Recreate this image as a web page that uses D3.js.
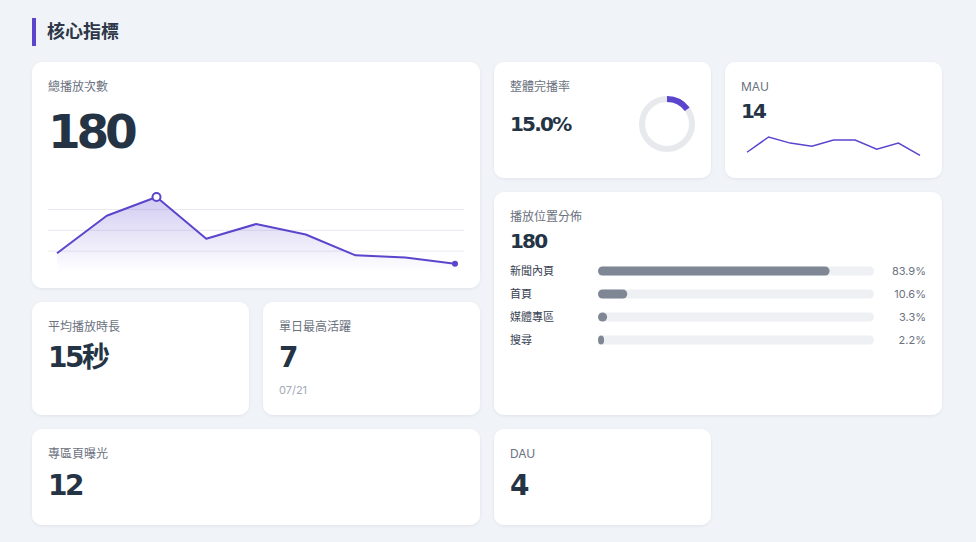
<!DOCTYPE html>
<html>
<head>
<meta charset="utf-8">
<title>核心指標</title>
<script src="https://cdn.jsdelivr.net/npm/d3@7"></script>
<style>
  html, body { margin: 0; padding: 0; background: #f0f4f8; }
  body { width: 976px; height: 542px; overflow: hidden; font-family: Inter, "Noto Sans CJK TC", sans-serif; }
  .lbl { font-size: 12px; fill: #6b7280; }
  .num { font-family: "DejaVu Sans", "Noto Sans CJK TC", sans-serif;
         font-weight: bold; fill: #253445; letter-spacing: -0.09em; }
</style>
</head>
<body>
<div id="container"></div>
<script>
// ---- data
var playCounts = [9, 27, 36, 16, 23, 18, 8, 7, 4];
var playGrid = [10, 20, 30];
var mauDaily = [2, 7, 5, 4, 6, 6, 3, 5, 1];
var completionRate = 0.15;
var placeNames = ["新聞內頁", "首頁", "媒體專區", "搜尋"];
var placeShares = [83.9, 10.6, 3.3, 2.2];

var cardNames = ["總播放次數", "整體完播率", "MAU", "播放位置分佈", "平均播放時長", "單日最高活躍", "專區頁曝光", "DAU"];
var cardValues = ["180", "15.0%", "14", "180", "15秒", "7", "12", "4"];
var peakDay = "07/21";

// ---- layout
var W = 976, H = 542;
var cards = [
  {x: 32, y: 62, w: 448, h: 226, size: 47, base: 148},
  {x: 494, y: 62, w: 217, h: 116, size: 20, base: 131},
  {x: 725, y: 62, w: 217, h: 116, size: 20, base: 118},
  {x: 494, y: 192, w: 448, h: 223, size: 20, base: 248},
  {x: 32, y: 302, w: 217, h: 113, size: 28, base: 367},
  {x: 263, y: 302, w: 217, h: 113, size: 28, base: 367},
  {x: 32, y: 429, w: 448, h: 96, size: 28, base: 495},
  {x: 494, y: 429, w: 217, h: 96, size: 28, base: 495}
];
var purple = "#5a45cc";

var svg = d3.select("#container").append("svg")
  .attr("width", W).attr("height", H);

var defs = svg.append("defs");
var sh = defs.append("filter").attr("id", "shadow")
  .attr("x", "-10%").attr("y", "-10%").attr("width", "120%").attr("height", "130%");
sh.append("feDropShadow").attr("dx", 0).attr("dy", 1).attr("stdDeviation", 1.5)
  .attr("flood-color", "#1a2a40").attr("flood-opacity", 0.07);

var grad = defs.append("linearGradient").attr("id", "areaGrad")
  .attr("x1", 0).attr("y1", 0).attr("x2", 0).attr("y2", 1);
grad.append("stop").attr("offset", "0%").attr("stop-color", purple).attr("stop-opacity", 0.28);
grad.append("stop").attr("offset", "100%").attr("stop-color", purple).attr("stop-opacity", 0);

// title
svg.append("rect").attr("x", 32).attr("y", 18).attr("width", 4).attr("height", 28).attr("fill", purple);
svg.append("text").attr("x", 47).attr("y", 38)
  .style("font-size", "18px").style("font-weight", "bold").attr("fill", "#2d3748")
  .text("核心指標");

// cards
var g = svg.selectAll("g.card").data(cards).enter().append("g").attr("class", "card");
g.append("rect")
  .attr("x", d => d.x).attr("y", d => d.y).attr("width", d => d.w).attr("height", d => d.h)
  .attr("rx", 10).attr("fill", "#fff").attr("filter", "url(#shadow)");
g.append("text").attr("class", "lbl")
  .attr("x", d => d.x + 16).attr("y", d => d.y + 29)
  .text((d, i) => cardNames[i]);
g.append("text").attr("class", "num")
  .attr("x", d => d.x + 16).attr("y", d => d.base)
  .style("font-size", d => d.size + "px")
  .text((d, i) => cardValues[i]);

// peak day note
svg.append("text").attr("x", 279).attr("y", 394)
  .style("font-size", "11px").attr("fill", "#a0aab8").text(peakDay);

// ---- play trend (card 0)
var x = d3.scaleLinear().domain([0, playCounts.length - 1]).range([57, 455]);
var y = d3.scaleLinear().domain([0, d3.max(playCounts)]).range([272, 197]);

svg.append("g").selectAll("line").data(playGrid).enter().append("line")
  .attr("x1", 48).attr("x2", 464)
  .attr("y1", d => y(d)).attr("y2", d => y(d))
  .attr("stroke", "#e9eaf0").attr("stroke-width", 1);

var area = d3.area().x((d, i) => x(i)).y0(y(0)).y1(d => y(d));
var line = d3.line().x((d, i) => x(i)).y(d => y(d));

svg.append("path").datum(playCounts).attr("d", area).attr("fill", "url(#areaGrad)");
svg.append("path").datum(playCounts).attr("d", line)
  .attr("fill", "none").attr("stroke", purple).attr("stroke-width", 2).attr("stroke-linejoin", "round");

var peak = d3.maxIndex(playCounts);
svg.append("circle").attr("cx", x(peak)).attr("cy", y(playCounts[peak])).attr("r", 4)
  .attr("fill", "#fff").attr("stroke", purple).attr("stroke-width", 2);
var last = playCounts.length - 1;
svg.append("circle").attr("cx", x(last)).attr("cy", y(playCounts[last])).attr("r", 3)
  .attr("fill", purple);

// ---- completion donut (card 1)
var arc = d3.arc().innerRadius(25).outerRadius(25);
var donut = svg.append("g").attr("transform", "translate(667,124)");
donut.append("circle").attr("r", 25).attr("fill", "none")
  .attr("stroke", "#e8e9ed").attr("stroke-width", 6);
donut.append("path")
  .attr("d", arc({startAngle: 0, endAngle: completionRate * 2 * Math.PI}))
  .attr("fill", "none").attr("stroke", purple).attr("stroke-width", 6).attr("stroke-linecap", "round");

// ---- MAU sparkline (card 2)
var mx = d3.scaleLinear().domain([0, mauDaily.length - 1]).range([747, 920]);
var my = d3.scaleLinear().domain(d3.extent(mauDaily)).range([155.3, 137]);
svg.append("path").datum(mauDaily)
  .attr("d", d3.line().x((d, i) => mx(i)).y(d => my(d)))
  .attr("fill", "none").attr("stroke", purple).attr("stroke-width", 1.5);

// ---- placement bars (card 3)
var by = d3.scalePoint().domain(placeNames).range([271, 340]);
var bx = d3.scaleLinear().domain([0, 100]).range([0, 276]);
var rows = svg.append("g").selectAll("g").data(placeNames).enter().append("g")
  .attr("transform", d => "translate(0," + by(d) + ")");
rows.append("text").attr("x", 510).attr("y", 4)
  .style("font-size", "11px").attr("fill", "#374151").text(d => d);
rows.append("rect").attr("x", 598).attr("y", -4.5).attr("width", bx(100)).attr("height", 9)
  .attr("rx", 4.5).attr("fill", "#eef0f4");
rows.append("rect").attr("x", 598).attr("y", -4.5)
  .attr("width", (d, i) => Math.max(bx(placeShares[i]), 6)).attr("height", 9)
  .attr("rx", 4.5).attr("fill", "#7f8795");
rows.append("text").attr("x", 926).attr("y", 4).attr("text-anchor", "end")
  .style("font-size", "11px").attr("fill", "#6b7280")
  .text((d, i) => placeShares[i].toFixed(1) + "%");
</script>
</body>
</html>
